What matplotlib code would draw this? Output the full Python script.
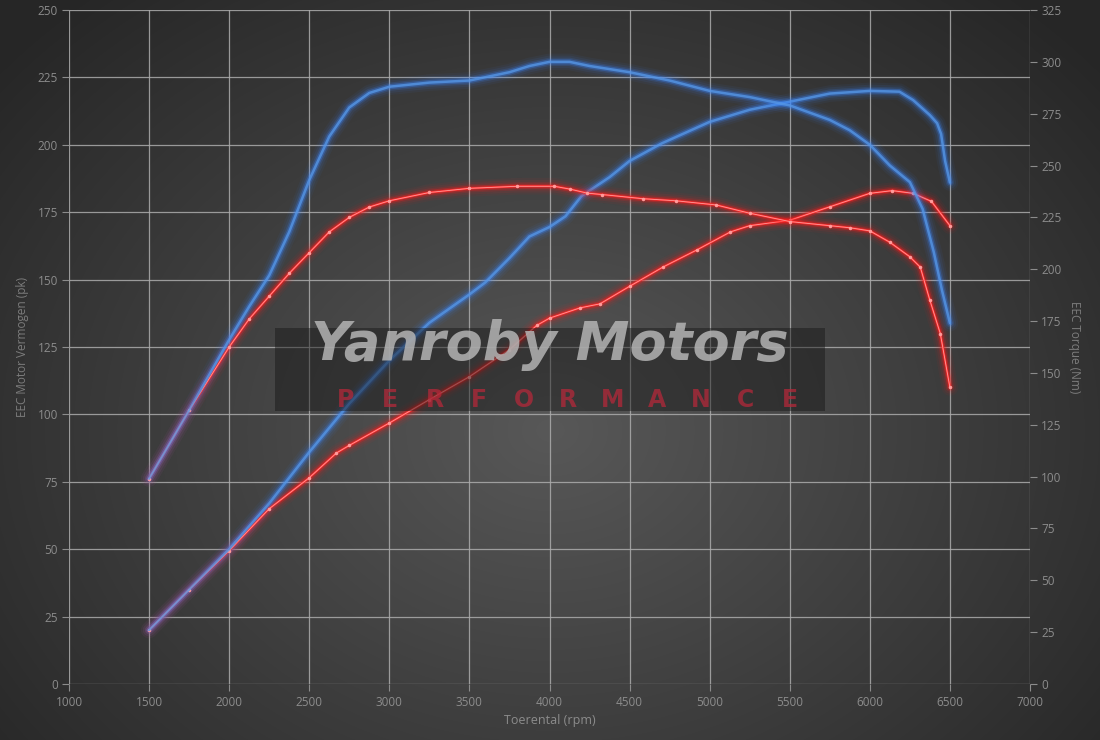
import numpy as np
import matplotlib
matplotlib.use("Agg")
import matplotlib.pyplot as plt
from matplotlib.patches import Rectangle

plt.rcParams['font.family'] = ['Open Sans', 'DejaVu Sans']

# ---- data ----
rpm_tq_blue = [1500, 1750, 2000, 2125, 2250, 2375, 2500, 2625, 2750, 2875, 3000, 3250, 3500,
               3750, 3875, 4000, 4125, 4250, 4500, 4750, 5000, 5250, 5500, 5750, 5875,
               6000, 6125, 6250, 6330, 6400, 6450, 6500]
torque_blue = [99, 132, 166, 182, 197, 218, 243, 264, 278, 285, 288, 290, 291,
               295, 298, 300, 300, 298, 295, 291, 286, 283, 279, 272, 267,
               260, 250, 242, 229, 208, 190, 174]

rpm_tq_red = [1500, 1750, 2000, 2125, 2250, 2375, 2500, 2625, 2750, 2875, 3000, 3250, 3500,
              3800, 4030, 4130, 4235, 4330, 4585, 4790, 5040, 5250, 5500, 5750, 5875,
              6000, 6125, 6250, 6315, 6375, 6440, 6500]
torque_red = [99, 132, 162.5, 176, 187, 198, 208, 218, 225, 230, 233, 237, 239,
              240, 240, 238.6, 236.7, 236, 234, 233, 231, 227, 223, 221, 220,
              218.5, 213, 206, 201, 185, 169, 143]

rpm_pw_blue = [1500, 1750, 2000, 2250, 2500, 2750, 3000, 3250, 3500, 3600, 3750, 3875, 4000,
               4100, 4200, 4375, 4500, 4700, 5000, 5250, 5500, 5750, 6000, 6185, 6270,
               6375, 6420, 6445, 6470, 6500]
power_blue = [20, 35, 50, 67, 86, 104, 120, 134, 144.5, 149, 158, 166, 169.5,
              173.5, 181, 188, 194, 200.5, 208.5, 213, 216, 219, 220, 219.7, 216.6,
              211, 208, 204, 194, 186]

rpm_pw_red = [1500, 1750, 2000, 2250, 2500, 2670, 2750, 3000, 3250, 3500, 3750, 3920, 4000,
              4190, 4315, 4500, 4710, 4920, 5130, 5250, 5500, 5750, 6000, 6140, 6270,
              6385, 6500]
power_red = [20, 35, 49.5, 65, 76.5, 85.7, 88.5, 96.8, 105.5, 114, 124, 133, 135.7,
             139.5, 141, 147.5, 154.7, 161, 167.7, 170, 172, 177, 182, 183, 182,
             179, 170]

x_ticks = list(range(1000, 7001, 500))
left_ticks = list(range(0, 251, 25))
right_ticks = list(range(0, 326, 25))

# ---- figure ----
fig = plt.figure(figsize=(11, 7.4), dpi=100)

# radial gradient background
bg = fig.add_axes([0, 0, 1, 1], zorder=-10)
yy, xx = np.mgrid[0:740, 0:1100]
r = np.sqrt(((xx - 550) / 700.0) ** 2 + ((yy - 430) / 560.0) ** 2)
val = np.clip(0.345 - 0.19 * r, 0.15, 0.345)
bg.imshow(np.dstack([val, val, val]), extent=[0, 1, 0, 1], aspect='auto', origin='upper')
bg.axis('off')

ax = fig.add_axes([69 / 1100, 56 / 740, 961 / 1100, 674 / 740])
ax.set_facecolor('none')
ax.set_xlim(1000, 7000)
ax.set_ylim(0, 250)
ax.set_xticks(x_ticks)
ax.set_yticks(left_ticks)
ax.grid(True, color='#acacac', lw=0.9, alpha=0.85)
for s in ax.spines.values():
    s.set_visible(False)
ax.tick_params(colors='#8c8c8c', labelsize=8.5, length=5, width=0.8, pad=3)
ax.tick_params(axis='x', pad=4)
ax.set_xlabel('Toerental (rpm)', color='#8c8c8c', fontsize=9, labelpad=3)
ax.set_ylabel('EEC Motor Vermogen (pk)', color='#7c7c7c', fontsize=8.5, labelpad=6)

ax2 = ax.twinx()
ax2.set_ylim(0, 325)
ax2.set_yticks(right_ticks)
for s in ax2.spines.values():
    s.set_visible(False)
ax2.tick_params(colors='#8c8c8c', labelsize=8.5, length=5, width=0.8, pad=3)
ax2.set_ylabel('EEC Torque (Nm)', color='#7c7c7c', fontsize=8.5, rotation=270, labelpad=14)

# watermark box
fig.patches.append(Rectangle((275 / 1100, (740 - 411) / 740), 550 / 1100, 83 / 740,
                             transform=fig.transFigure, facecolor='#151515', alpha=0.45,
                             edgecolor='none', zorder=1))
fig.text(550 / 1100, (740 - 360) / 740, 'Yanroby Motors', ha='center', va='baseline',
         fontsize=39, fontweight='bold', fontstyle='italic', color='#b4b4b4', alpha=0.85,
         family='DejaVu Sans', zorder=2)
letters = 'PERFORMANCE'
for i, ch in enumerate(letters):
    fig.text((346 + i * 44.4) / 1100, (740 - 400) / 740, ch, ha='center', va='center',
             fontsize=17, fontweight='heavy', color='#b8283a', alpha=0.72,
             family='DejaVu Sans', zorder=2)


def glow(a, x, y, glowc):
    for lw, al in [(12, 0.05), (9, 0.08), (6, 0.15), (3.8, 0.32)]:
        a.plot(x, y, color=glowc, lw=lw, alpha=al, solid_capstyle='round',
               solid_joinstyle='round', zorder=5)


blue_core = '#5596e6'
blue_glow = '#3a86ff'
red_core = '#ff2a2a'
red_glow = '#ff1a1a'

# glows
glow(ax2, rpm_tq_red, torque_red, red_glow)
glow(ax, rpm_pw_red, power_red, red_glow)
glow(ax2, rpm_tq_blue, torque_blue, blue_glow)
glow(ax, rpm_pw_blue, power_blue, blue_glow)
# red cores + highlight with point markers
for a, x, y in [(ax2, rpm_tq_red, torque_red), (ax, rpm_pw_red, power_red)]:
    a.plot(x, y, color=red_core, lw=1.6, solid_capstyle='round', zorder=6)
    a.plot(x, y, color='#ff9a9a', lw=0.6, marker='o', ms=1.5, zorder=7)
# blue cores
for a, x, y in [(ax2, rpm_tq_blue, torque_blue), (ax, rpm_pw_blue, power_blue)]:
    a.plot(x, y, color=blue_core, lw=1.8, alpha=0.8, solid_capstyle='round', zorder=8)

fig.savefig('out.png', dpi=100)
